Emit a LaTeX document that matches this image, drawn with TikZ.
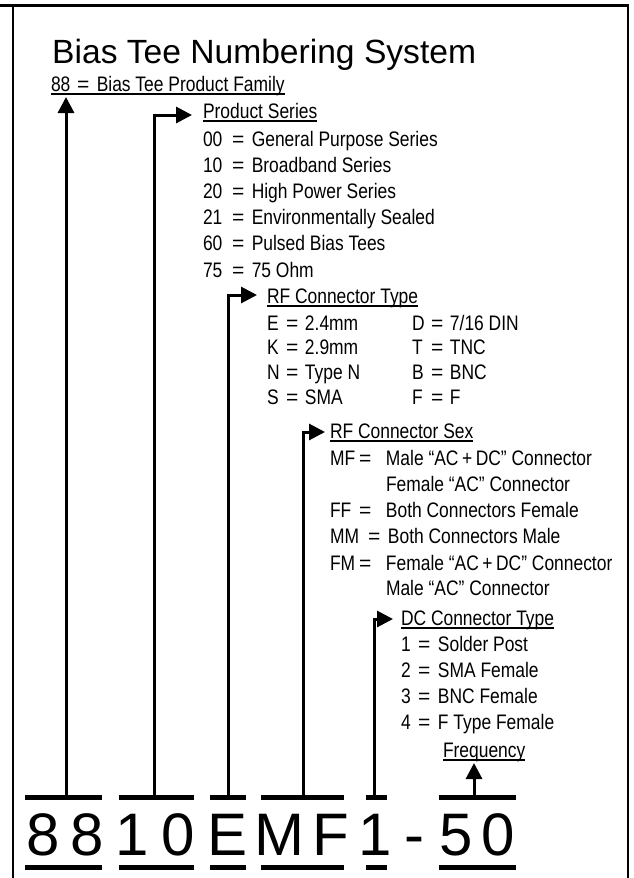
\documentclass[tikz,border=0pt]{standalone}
\usepackage{fontspec}
\setmainfont{Liberation Sans}
\newfontfamily\nar[FakeStretch=0.83]{Liberation Sans}
\newfontfamily\reg{Liberation Sans}
\usetikzlibrary{arrows.meta}
\newcommand\eqkey[3]{\makebox[#1pt][l]{#2}{\reg=}\hspace{#3pt}}
\tikzset{
  lbl/.style={inner sep=0pt, outer sep=0pt, anchor=base west, font=\nar\fontsize{21}{21}\selectfont},
  bar/.style={fill=black, inner sep=0pt, outer sep=0pt, minimum height=5pt},
  conn/.style={line width=3pt, -{Triangle[length=16pt,width=16pt]}},
  dig/.style={inner sep=0pt, outer sep=0pt, anchor=base, font=\fontsize{60}{60}\selectfont},
  uline/.style={line width=1.4pt},
  frame/.style={line width=2pt}
}
\begin{document}
\begin{tikzpicture}[x=1pt,y=-1pt]
\useasboundingbox (0,0) rectangle (634,878);
% frame
\draw[line width=3pt] (0,5.5) -- (629,5.5);
\draw[frame] (12.7,4) -- (12.7,878);
\draw[frame] (628,4) -- (628,878);
% title
\node[inner sep=0pt, anchor=base west, font=\fontsize{33.6}{34}\selectfont] (title) at (52,63) {Bias Tee Numbering System};
% family
\node[lbl] (fam) at (51,91) {\eqkey{26}{88}{7.5}Bias Tee Product Family};
\draw[uline] ([yshift=-3pt]fam.base west) -- ([yshift=-3pt]fam.base east);
% product series
\node[lbl] (ps) at (203,118) {Product Series};
\draw[uline] ([yshift=-3pt]ps.base west) -- ([yshift=-3pt]ps.base east);
\node[lbl] (ps0) at (203,146) {\eqkey{29}{00}{7.5}General Purpose Series};
\node[lbl] (ps1) at (203,172.2) {\eqkey{29}{10}{7.5}Broadband Series};
\node[lbl] (ps2) at (203,198.4) {\eqkey{29}{20}{7.5}High Power Series};
\node[lbl] (ps3) at (203,224.6) {\eqkey{29}{21}{7.5}Environmentally Sealed};
\node[lbl] (ps4) at (203,250.8) {\eqkey{29}{60}{7.5}Pulsed Bias Tees};
\node[lbl] (ps5) at (203,277) {\eqkey{29}{75}{7.5}75 Ohm};
% RF connector type
\node[lbl] (rt) at (267,303) {RF Connector Type};
\draw[uline] ([yshift=-3pt]rt.base west) -- ([yshift=-3pt]rt.base east);
\node[lbl] (rt1) at (267,330) {\eqkey{19}{E}{6.7}2.4mm};
\node[lbl] (rt2) at (267,354.7) {\eqkey{19}{K}{6.7}2.9mm};
\node[lbl] (rt3) at (267,379.4) {\eqkey{19}{N}{6.7}Type N};
\node[lbl] (rt4) at (267,404) {\eqkey{19}{S}{6.7}SMA};
\node[lbl] (rt5) at (412,330) {\eqkey{19}{D}{6.7}7/16 DIN};
\node[lbl] (rt6) at (412,354.7) {\eqkey{19}{T}{6.7}TNC};
\node[lbl] (rt7) at (412,379.4) {\eqkey{19}{B}{6.7}BNC};
\node[lbl] (rt8) at (412,404) {\eqkey{19}{F}{6.7}F};
% RF connector sex
\node[lbl] (rs) at (330,438) {RF Connector Sex};
\draw[uline] ([yshift=-3pt]rs.base west) -- ([yshift=-3pt]rs.base east);
\node[lbl] (rs1) at (330,465) {\eqkey{29}{MF}{14.7}Male “AC\,+\,DC” Connector};
\node[lbl] (rs1b) at (386,491) {Female “AC” Connector};
\node[lbl] (rs2) at (330,517) {\eqkey{29}{FF}{14.7}Both Connectors Female};
\node[lbl] (rs3) at (330,543) {\eqkey{38}{MM}{7.7}Both Connectors Male};
\node[lbl] (rs4) at (330,570) {\eqkey{29}{FM}{14.7}Female “AC\,+\,DC” Connector};
\node[lbl] (rs4b) at (386,595) {Male “AC” Connector};
% DC connector type
\node[lbl] (dc) at (401,625) {DC Connector Type};
\draw[uline] ([yshift=-3pt]dc.base west) -- ([yshift=-3pt]dc.base east);
\node[lbl] (dc1) at (401,651) {\eqkey{17}{1}{7.7}Solder Post};
\node[lbl] (dc2) at (401,677) {\eqkey{17}{2}{7.7}SMA Female};
\node[lbl] (dc3) at (401,703) {\eqkey{17}{3}{7.7}BNC Female};
\node[lbl] (dc4) at (401,729) {\eqkey{17}{4}{7.7}F Type Female};
% frequency
\node[lbl] (fq) at (443,757) {Frequency};
\draw[uline] ([yshift=-3pt]fq.base west) -- ([yshift=-3pt]fq.base east);
% bars
\node[bar, minimum width=77pt] (t1) at (63.5,797.5) {};
\node[bar, minimum width=75pt] (t2) at (156.5,797.5) {};
\node[bar, minimum width=36pt] (t3) at (228,797.5) {};
\node[bar, minimum width=83pt] (t4) at (302.5,797.5) {};
\node[bar, minimum width=21pt] (t5) at (376.5,797.5) {};
\node[bar, minimum width=77pt] (t6) at (477.5,797.5) {};
\node[bar, minimum width=77pt] (u1) at (63.5,867.5) {};
\node[bar, minimum width=75pt] (u2) at (156.5,867.5) {};
\node[bar, minimum width=36pt] (u3) at (228,867.5) {};
\node[bar, minimum width=83pt] (u4) at (302.5,867.5) {};
\node[bar, minimum width=21pt] (u5) at (376.5,867.5) {};
\node[bar, minimum width=77pt] (u6) at (477.5,867.5) {};
% digits
\node[dig] (d1) at (43.5,855) {8};
\node[dig] (d2) at (87,855) {8};
\node[dig] (d3) at (132.5,855) {1};
\node[dig] (d4) at (178,855) {0};
\node[dig] (d5) at (228,855) {E};
\node[dig] (d6) at (279.5,855) {M};
\node[dig] (d7) at (331,855) {F};
\node[dig] (d8) at (375.5,855) {1};
\node[dig] (d9) at (414,855) {-};
\node[dig] (d10) at (456.5,855) {5};
\node[dig] (d11) at (498,855) {0};
% connectors
\coordinate (k1) at (66,97);
\coordinate (k2) at (154,115);
\coordinate (k3) at (228,295);
\coordinate (k4) at (303,432);
\coordinate (k5) at (374,619);
\coordinate (k6) at (474,763);
\coordinate (p2) at (192,115);
\coordinate (p3) at (257,295);
\coordinate (p4) at (325,432);
\coordinate (p5) at (393,619);
\draw[conn] (k1 |- t1.north) -- (k1);
\draw[conn] (k2 |- t2.north) -- (k2) -- (p2);
\draw[conn] (k3 |- t3.north) -- (k3) -- (p3);
\draw[conn] (k4 |- t4.north) -- (k4) -- (p4);
\draw[conn] (k5 |- t5.north) -- (k5) -- (p5);
\draw[conn] (k6 |- t6.north) -- (k6);
\end{tikzpicture}
\end{document}
